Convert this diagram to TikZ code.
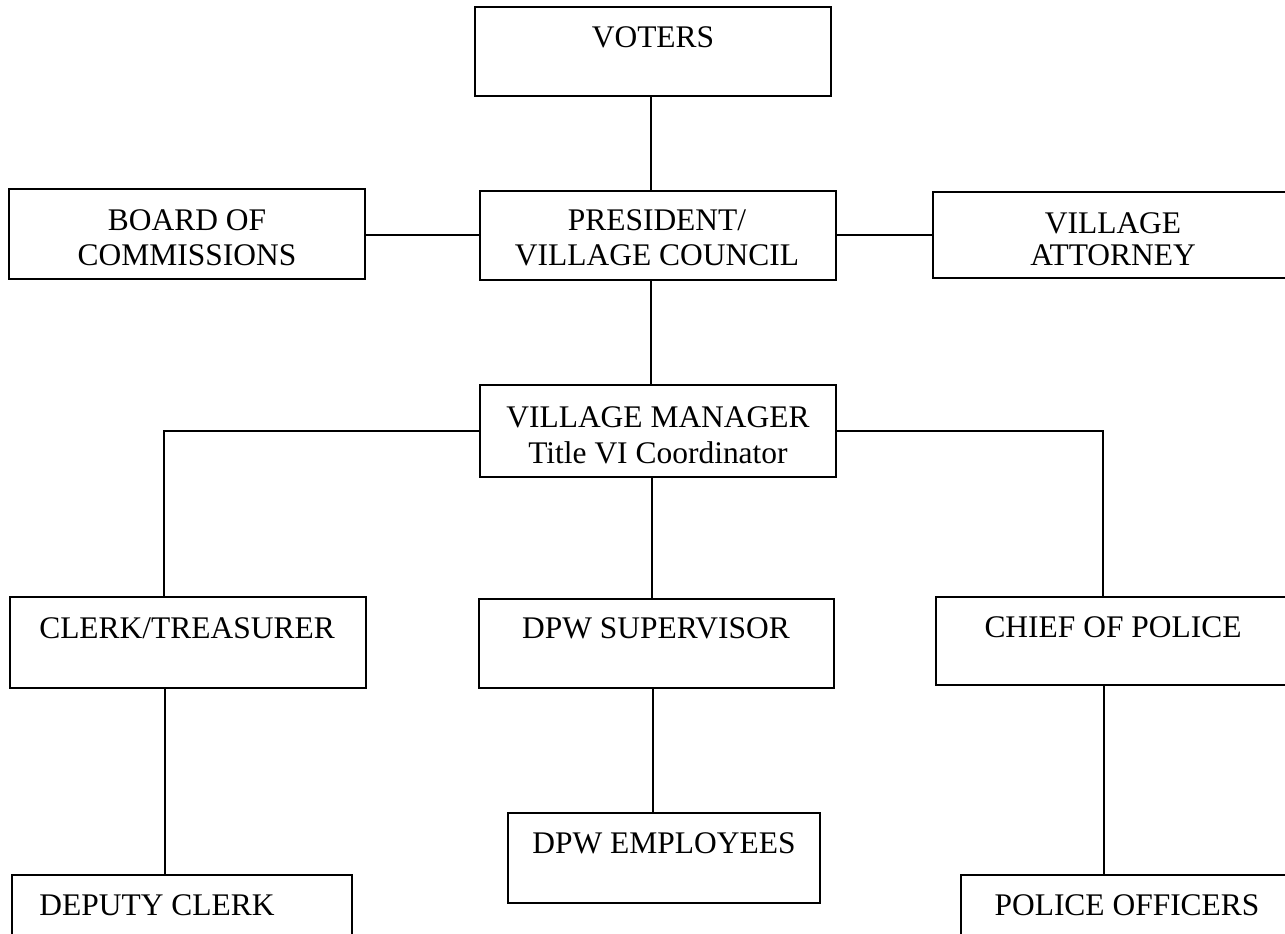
\documentclass[tikz,border=0pt]{standalone}
\usepackage{fontspec}
\setmainfont{Liberation Serif}
\begin{document}
\begin{tikzpicture}[x=0.75pt,y=-0.75pt,
  box/.style={draw=black,line width=2.1pt,fill=white,inner sep=0pt},
  conn/.style={draw=black,line width=1.8pt},
  lbl/.style={inner sep=0pt,anchor=base,font=\fontsize{23.6}{28}\selectfont}]
\useasboundingbox (0,0) rectangle (1285,934);
\clip (0,0) rectangle (1285,934);
\fill[white] (0,0) rectangle (1285,934);
% boxes
\node[box,minimum width=356*0.75pt,minimum height=89*0.75pt] (voters) at (653,51.5) {};
\node[box,minimum width=356*0.75pt,minimum height=90*0.75pt] (board) at (187,234) {};
\node[box,minimum width=356*0.75pt,minimum height=89*0.75pt] (pres) at (658,235.5) {};
\node[box,minimum width=357*0.75pt,minimum height=86*0.75pt] (att) at (1111.5,235) {};
\node[box,minimum width=356*0.75pt,minimum height=92*0.75pt] (vm) at (658,431) {};
\node[box,minimum width=356*0.75pt,minimum height=91*0.75pt] (clerk) at (188,642.5) {};
\node[box,minimum width=355*0.75pt,minimum height=89*0.75pt] (dpw) at (656.5,643.5) {};
\node[box,minimum width=354*0.75pt,minimum height=88*0.75pt] (chief) at (1113,641) {};
\node[box,minimum width=340*0.75pt,minimum height=100*0.75pt] (deputy) at (182,925) {};
\node[box,minimum width=312*0.75pt,minimum height=90*0.75pt] (dpwe) at (664,858) {};
\node[box,minimum width=334*0.75pt,minimum height=100*0.75pt] (police) at (1128,925) {};
% connectors
\coordinate (vmL) at (164,431);
\coordinate (vmR) at (1103,431);
\draw[conn] (voters.south -| 651,0) -- (pres.north -| 651,0);
\draw[conn] (board.east |- 0,235) -- (pres.west |- 0,235);
\draw[conn] (pres.east |- 0,235) -- (att.west |- 0,235);
\draw[conn] (pres.south -| 651,0) -- (vm.north -| 651,0);
\draw[conn] (vm.west |- vmL) -- (vmL) -- (clerk.north -| vmL);
\draw[conn] (vm.east |- vmR) -- (vmR) -- (chief.north -| vmR);
\draw[conn] (vm.south -| 652,0) -- (dpw.north -| 652,0);
\draw[conn] (clerk.south -| 165,0) -- (deputy.north -| 165,0);
\draw[conn] (dpw.south -| 653,0) -- (dpwe.north -| 653,0);
\draw[conn] (chief.south -| 1104,0) -- (police.north -| 1104,0);
% labels
\node[lbl] (tvoters) at (653,47.5) {VOTERS};
\node[lbl] (tboard1) at (187,230.5) {BOARD OF};
\node[lbl] (tboard2) at (187,265.5) {COMMISSIONS};
\node[lbl] (tpres1) at (657,230.5) {PRESIDENT/};
\node[lbl] (tpres2) at (657,265.5) {VILLAGE COUNCIL};
\node[lbl] (tatt1) at (1113,233.5) {VILLAGE};
\node[lbl] (tatt2) at (1113,265.5) {ATTORNEY};
\node[lbl] (tvm1) at (658,427.5) {VILLAGE MANAGER};
\node[lbl] (tvm2) at (658,463.5) {Title VI Coordinator};
\node[lbl] (tclerk) at (187,638.5) {CLERK/TREASURER};
\node[lbl] (tdpw) at (656,638.5) {DPW SUPERVISOR};
\node[lbl] (tchief) at (1113,637.5) {CHIEF OF POLICE};
\node[lbl] (tdeputy) at (157,915.5) {DEPUTY CLERK};
\node[lbl] (tdpwe) at (664,853.5) {DPW EMPLOYEES};
\node[lbl] (tpolice) at (1127,915.5) {POLICE OFFICERS};
\end{tikzpicture}
\end{document}
